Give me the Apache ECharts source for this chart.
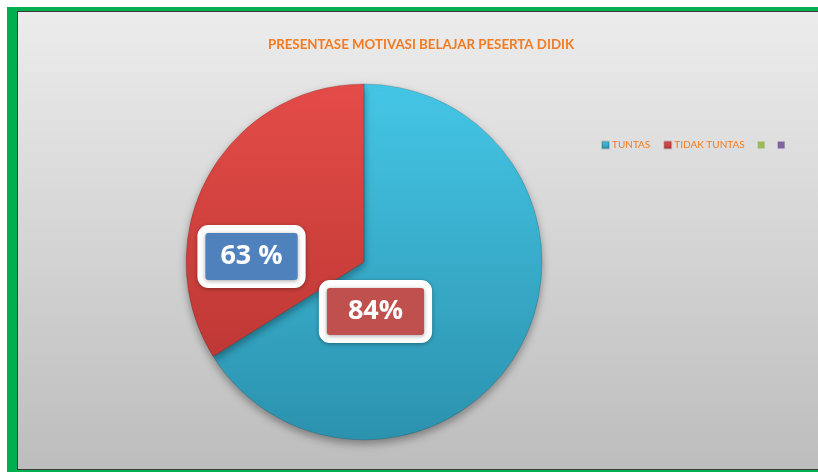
<!DOCTYPE html>
<html>
<head>
<meta charset="utf-8">
<script src="https://cdn.jsdelivr.net/npm/echarts@6/dist/echarts.min.js"></script>
<style>
html,body{margin:0;padding:0;background:#fff;}
#c{width:818px;height:472px;}
</style>
</head>
<body>
<div id="c"></div>
<script>
// Data
var categories = ['TUNTAS', 'TIDAK TUNTAS', ' ', '  '];
var legendLabels = ['TUNTAS', 'TIDAK TUNTAS', '', ''];
var values = [66.1, 33.9, 0, 0];
var labelTexts = ['84%', '63 %', '', ''];
var titleText = 'PRESENTASE MOTIVASI BELAJAR PESERTA DIDIK';

var sliceColors = [
  new echarts.graphic.LinearGradient(0, 0, 0, 1, [{offset: 0, color: '#45c6e6'}, {offset: 1, color: '#2b92ae'}]),
  new echarts.graphic.LinearGradient(0, 0, 0, 1, [{offset: 0, color: '#e44c48'}, {offset: 1, color: '#bf3835'}]),
  '#9bbb59',
  '#8064a2'
];
var labelBg = ['#c0504d', '#4f81bd', null, null];
var labelOffsets = [[-69, 5], [-32, 39], [0, 0], [0, 0]];
var labelPadH = [21, 15, 0, 0];

var chart = echarts.init(document.getElementById('c'), null, {renderer: 'canvas'});

var pieData = categories.map(function (name, i) {
  var d = {
    name: name,
    value: values[i],
    itemStyle: {color: sliceColors[i]}
  };
  if (labelTexts[i]) {
    d.label = {
      show: true,
      position: 'inside',
      offset: labelOffsets[i],
      formatter: labelTexts[i],
      color: '#ffffff',
      fontSize: 27,
      fontWeight: 'bold',
      fontFamily: 'Open Sans',
      backgroundColor: labelBg[i],
      borderColor: '#ffffff',
      borderWidth: 8,
      borderRadius: 3,
      padding: [11, labelPadH[i], 9, labelPadH[i]],
      shadowColor: 'rgba(0,0,0,0.35)',
      shadowBlur: 4,
      shadowOffsetY: 1
    };
  } else {
    d.label = {show: false};
    d.itemStyle.borderWidth = 0;
  }
  return d;
});

chart.setOption({
  animation: false,
  graphic: [
    {type: 'rect', z: -10, silent: true, shape: {x: 7, y: 7, width: 811, height: 465}, style: {fill: '#00b050'}},
    {type: 'rect', z: -9, silent: true, shape: {x: 17, y: 11, width: 801, height: 459}, style: {fill: '#3a3a3a'}},
    {type: 'rect', z: -8, silent: true, shape: {x: 18, y: 12, width: 800, height: 457},
      style: {fill: new echarts.graphic.LinearGradient(0, 0, 0, 1, [{offset: 0, color: '#ececec'}, {offset: 1, color: '#bdbdbd'}])}}
  ],
  title: {
    text: titleText,
    left: 416,
    textAlign: 'center',
    top: 33,
    textStyle: {color: '#f47a20', fontSize: 13.3, fontWeight: 'bold', fontFamily: 'Lato'}
  },
  legend: {
    left: 596,
    top: 135,
    itemWidth: 7,
    itemHeight: 7,
    itemGap: 13,
    icon: 'rect',
    data: categories,
    formatter: function (name) { return legendLabels[categories.indexOf(name)]; },
    textStyle: {color: '#f47a20', fontSize: 10, fontFamily: 'Lato', padding: [0, 0, 0, -2]}
  },
  series: [{
    type: 'pie',
    center: [364, 262],
    radius: [0, 178],
    startAngle: 90,
    clockwise: true,
    avoidLabelOverlap: false,
    labelLine: {show: false},
    itemStyle: {
      borderColor: 'rgba(0,0,0,0.15)',
      borderWidth: 1,
      shadowColor: 'rgba(0,0,0,0.35)',
      shadowBlur: 8,
      shadowOffsetY: 4
    },
    emphasis: {disabled: true},
    data: pieData
  }]
});
</script>
</body>
</html>
